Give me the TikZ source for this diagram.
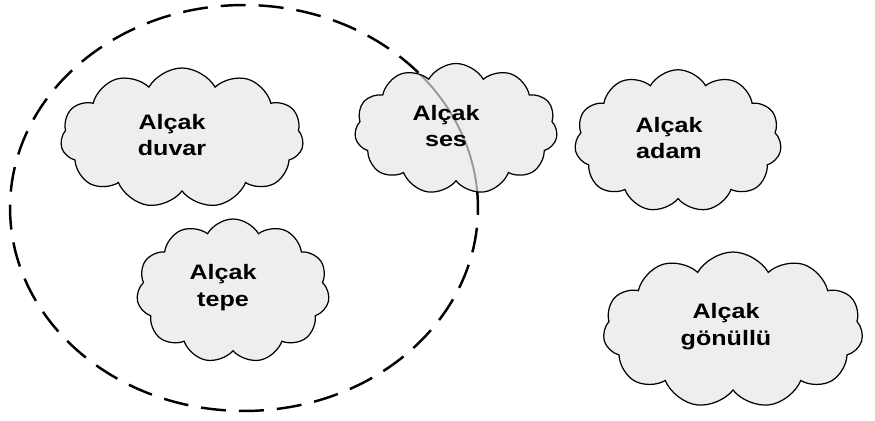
\documentclass[tikz,border=0pt]{standalone}
\usepackage{fontspec}
\setmainfont{Liberation Sans}
\newfontfamily\cloudfont[FakeStretch=1.2]{Liberation Sans}
\usetikzlibrary{positioning, shapes.symbols}
\definecolor{cloudgray}{HTML}{EEEEEE}
\tikzset{
  cloudbox/.style={
    draw, cloud, cloud puffs=11, cloud puff arc=120, aspect=1.8,
    cloud ignores aspect, inner sep=0pt,
    fill=cloudgray, line width=0.7pt
  },
  cloudtext/.style={
    font=\cloudfont\fontsize{11.9}{15.3}\selectfont\bfseries,
    align=center, inner sep=0pt
  },
  ringline/.style={
    draw, line width=1.4pt, dash pattern=on 0.5cm off 0.26cm
  },
}

\begin{document}
\begin{tikzpicture}[x=0.02cm, y=-0.02cm]
        \useasboundingbox (0,0) rectangle (875,421);
        % dashed group ring
        \coordinate (ctr) at (244,208);
        \draw[ringline] (ctr) ellipse [x radius=4.68cm, y radius=4.06cm];
        \node[cloudbox, minimum width=4.86cm, minimum height=2.8cm] (duvar) at (182,138) {};
        \node[cloudbox, minimum width=3.86cm, minimum height=2.88cm] (tepe) at (233,291) {};
        \node[cloudbox, minimum width=4.06cm, minimum height=2.62cm,
          path picture={\draw[gray!80, line width=1.1pt] (ctr) ellipse [x radius=4.68cm, y radius=4.06cm];}]
          (ses) at (456,129) {};
        \node[cloudbox, minimum width=4.14cm, minimum height=2.85cm] (adam) at (678,141) {};
        \node[cloudbox, minimum width=5.2cm, minimum height=3.12cm] (gonullu) at (733,330) {};
        % labels, a bit left of the cloud centres
        \node[cloudtext] (duvar text) at ([xshift=-0.2cm, yshift=0.06cm]duvar.center) {Alçak\\duvar};
        \node[cloudtext] (tepe text) at ([xshift=-0.2cm, yshift=0.06cm]tepe.center) {Alçak\\tepe};
        \node[cloudtext] (ses text) at ([xshift=-0.2cm, yshift=0.06cm]ses.center) {Alçak\\ses};
        \node[cloudtext] (adam text) at ([xshift=-0.18cm, yshift=0.06cm]adam.center) {Alçak\\adam};
        \node[cloudtext] (gonullu text) at ([xshift=-0.14cm, yshift=0.06cm]gonullu.center) {Alçak\\gönüllü};
\end{tikzpicture}
\end{document}
